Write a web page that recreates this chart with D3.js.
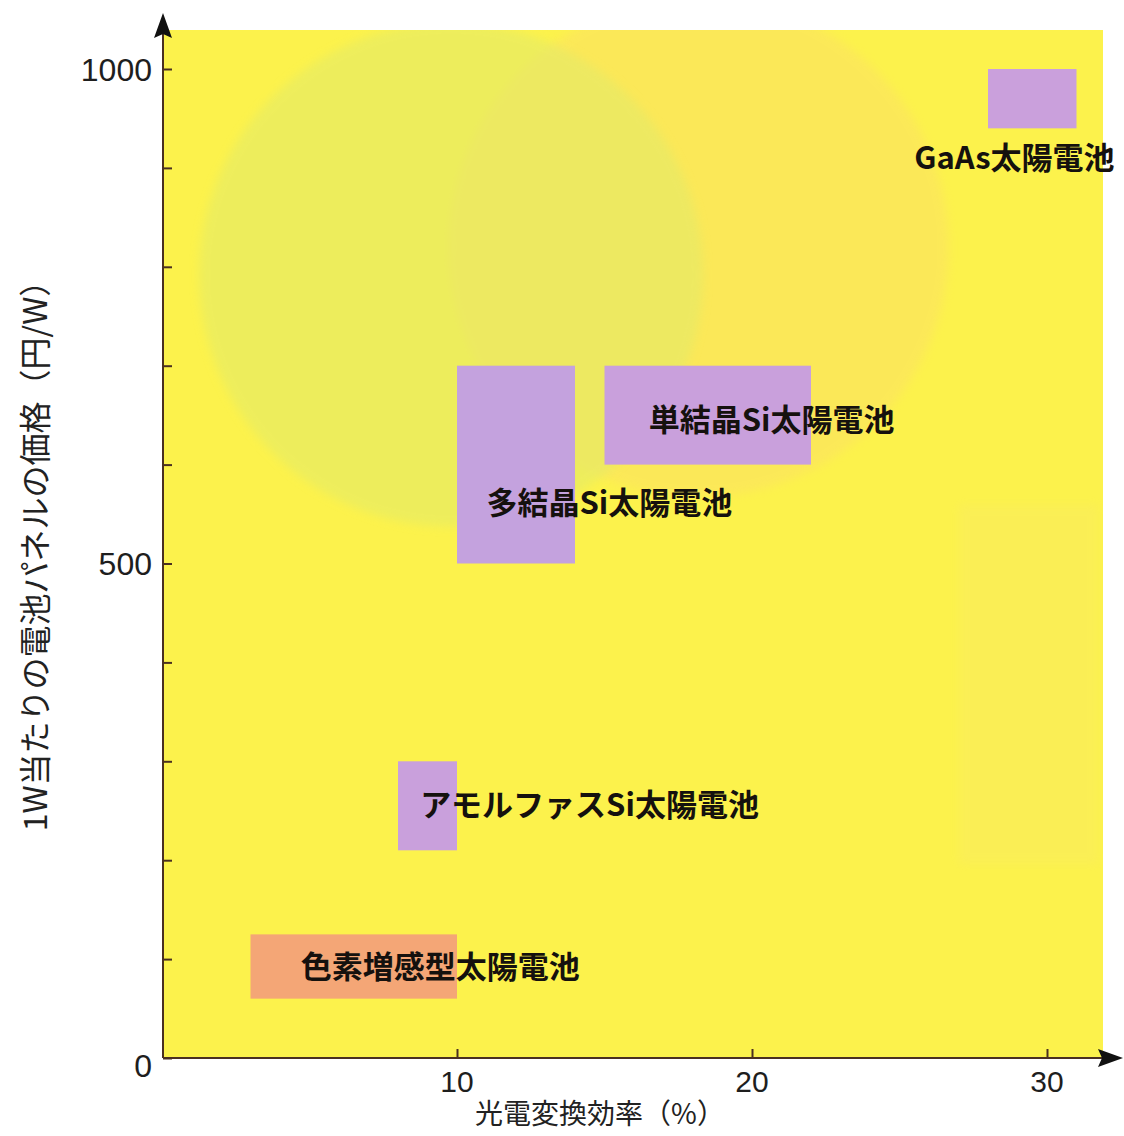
<!DOCTYPE html>
<html><head><meta charset="utf-8">
<script src="https://cdn.jsdelivr.net/npm/d3@7"></script>
<style>body{margin:0;background:#fff}svg{display:block}text{font-family:"Noto Sans CJK JP","Noto Sans",sans-serif}</style>
</head><body>
<script>
const cells = ["GaAs太陽電池","単結晶Si太陽電池","多結晶Si太陽電池","アモルファスSi太陽電池","色素増感型太陽電池"];
const effMin = [28, 15, 10, 8, 3];
const effMax = [31, 22, 14, 10, 10];
const priceMin = [940, 600, 500, 210, 60];
const priceMax = [1000, 700, 700, 300, 125];
const labelEff = [25.5, 16.5, 11.0, 8.75, 4.7];
const labelPrice = [910, 645, 561, 256, 92];
const xTicks = [10, 20, 30];
const yTicks = [0, 500, 1000];
const yMinor = [100,200,300,400,600,700,800,900];
const xTitle = "光電変換効率（%）";
const yTitle = "1W当たりの電池パネルの価格（円/W）";

const W = 1124, H = 1136;
const svg = d3.select("body").append("svg").attr("width", W).attr("height", H);
const x = d3.scaleLinear().domain([0, 32]).range([162, 1106]);
const y = d3.scaleLinear().domain([0, 1000]).range([1058, 69]);

// plot background
svg.append("rect").attr("x", 163).attr("y", 30).attr("width", 940).attr("height", 1028).attr("fill", "#fcf24c");
const defs = svg.append("defs");
defs.append("filter").attr("id","blur").append("feGaussianBlur").attr("stdDeviation", 5);
const clip = defs.append("clipPath").attr("id","pc");
clip.append("rect").attr("x",163).attr("y",30).attr("width",940).attr("height",1028);
const deco = svg.append("g").attr("clip-path","url(#pc)");
deco.append("circle").attr("cx", x(18.2)).attr("cy", y(820)).attr("r", 250).attr("fill", "#fbd870").attr("opacity", 0.35).attr("filter","url(#blur)");
deco.append("circle").attr("cx", x(9.8)).attr("cy", y(792)).attr("r", 252).attr("fill", "#e2ea6a").attr("opacity", 0.55).attr("filter","url(#blur)");
deco.append("rect").attr("x", x(27)).attr("y", y(560)).attr("width", 140).attr("height", 360).attr("fill", "#f4e27a").attr("opacity", 0.2).attr("filter","url(#blur)");

// rectangles
const colors = ["#caa0dc","#c9a0dc","#c4a2de","#c9a0dc","#f4a676"];
svg.append("g").selectAll("rect").data(cells).join("rect")
  .attr("x", (d,i) => x(effMin[i]))
  .attr("y", (d,i) => y(priceMax[i]))
  .attr("width", (d,i) => x(effMax[i]) - x(effMin[i]))
  .attr("height", (d,i) => y(priceMin[i]) - y(priceMax[i]))
  .attr("fill", (d,i) => colors[i]);

// labels
svg.append("g").selectAll("text").data(cells).join("text")
  .attr("x", (d,i) => x(labelEff[i]))
  .attr("y", (d,i) => y(labelPrice[i]))
  .attr("dy", "0.36em")
  .attr("font-size", 31).attr("font-weight", 700).attr("fill", "#15110e")
  .text(d => d);

const axisColor = "#4a3020";
// axes lines
svg.append("line").attr("x1", 163).attr("x2", 163).attr("y1", 1058).attr("y2", 30).attr("stroke", axisColor).attr("stroke-width", 2);
svg.append("line").attr("x1", 163).attr("x2", 1105).attr("y1", 1058).attr("y2", 1058).attr("stroke", axisColor).attr("stroke-width", 2);
svg.append("path").attr("d", "M163,13 L154,38 L163,34 L172,38 Z").attr("fill", "#111");
svg.append("path").attr("d", "M1123,1058 L1098,1049 L1102,1058 L1098,1067 Z").attr("fill", "#111");

// ticks
const yAxis = d3.axisRight(y).tickValues(yTicks.concat(yMinor)).tickSize(9).tickFormat("");
const gy = svg.append("g").attr("transform", "translate(163,0)").call(yAxis);
gy.select(".domain").remove();
gy.selectAll("line").attr("stroke", axisColor).attr("stroke-width", 2);
const xAxis = d3.axisTop(x).tickValues(xTicks).tickSize(9).tickFormat("");
const gx = svg.append("g").attr("transform", "translate(0,1058)").call(xAxis);
gx.select(".domain").remove();
gx.selectAll("line").attr("stroke", axisColor).attr("stroke-width", 2);

// tick labels
svg.append("g").selectAll("text").data(yTicks).join("text")
  .attr("x", 152).attr("y", d => y(d) + (d === 0 ? 7 : 0)).attr("dy", "0.36em")
  .attr("text-anchor", "end").attr("font-size", 32).attr("fill", "#1e1e1e")
  .style("font-family", "Liberation Sans, Arial, sans-serif")
  .text(d => d);
svg.append("g").selectAll("text").data(xTicks).join("text")
  .attr("x", d => x(d)).attr("y", 1081).attr("dy", "0.36em")
  .attr("text-anchor", "middle").attr("font-size", 30).attr("fill", "#1e1e1e")
  .style("font-family", "Liberation Sans, Arial, sans-serif")
  .text(d => d);

// titles
svg.append("text").attr("x", 600).attr("y", 1114).attr("dy", "0.36em")
  .attr("text-anchor", "middle").attr("font-size", 28).attr("fill", "#222").text(xTitle);
svg.append("text").attr("transform", "translate(35,548) rotate(-90)").attr("dy", "0.36em")
  .attr("text-anchor", "middle").attr("font-size", 32).attr("fill", "#222").text(yTitle);
</script>
</body></html>
